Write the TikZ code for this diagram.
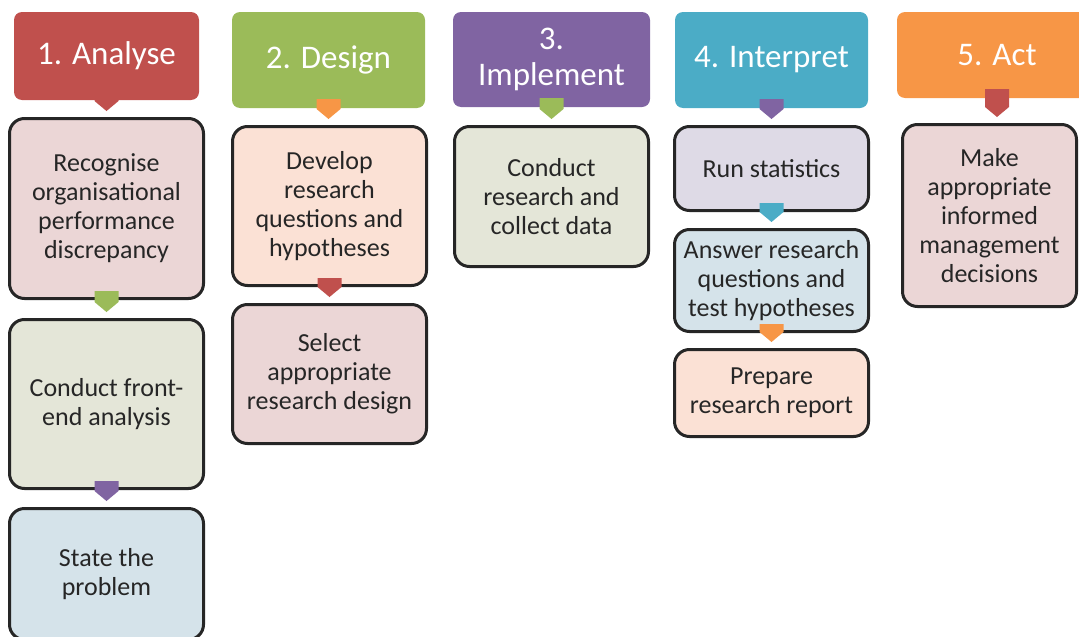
\documentclass[tikz,border=0pt]{standalone}
\usepackage{fontspec}
\setmainfont{Carlito}
\usetikzlibrary{calc}

\definecolor{ared}{HTML}{C0504D}
\definecolor{agreen}{HTML}{9BBB59}
\definecolor{apurple}{HTML}{8064A2}
\definecolor{ateal}{HTML}{4BACC6}
\definecolor{aorange}{HTML}{F79646}
\definecolor{tpink}{HTML}{EBD6D6}
\definecolor{tolive}{HTML}{E4E6D8}
\definecolor{tblue}{HTML}{D5E3EA}
\definecolor{tpeach}{HTML}{FBE1D5}
\definecolor{tlilac}{HTML}{DEDAE6}

\begin{document}
\begin{tikzpicture}[x=1pt,y=-1pt,
  phase/.style={rounded corners=8pt,inner sep=0pt,align=center,text=white,
    font=\fontsize{33}{36}\selectfont},
  task/.style={draw=black!85,line width=3pt,rounded corners=15pt,inner sep=0pt,
    align=center,text=black!85,font=\fontsize{26}{29}\selectfont,minimum width=194pt},
  every node/.style={anchor=center}]

\useasboundingbox (0,0) rectangle (1079,637);

%draw phases
  \node[phase,fill=ared,minimum width=185pt,minimum height=88pt] (analyse) at (106.5,56) {1. Analyse};
  \node[phase,fill=agreen,minimum width=193pt,minimum height=96pt] (design) at (328.5,60) {2. Design};
  \node[phase,fill=apurple,minimum width=197pt,minimum height=95pt] (implement) at (551.5,59.5) {3.\\Implement};
  \node[phase,fill=ateal,minimum width=193pt,minimum height=96pt] (interpret) at (771.5,60) {4. Interpret};
  \node[phase,fill=aorange,minimum width=200pt,minimum height=86pt] (act) at (997,55) {5. Act};

%draw tasks
  \node[task,fill=tpink,minimum height=180pt] (recognise) at (106.5,208.5) {Recognise\\organisational\\performance\\discrepancy};
  \node[task,fill=tolive,minimum height=169pt] (frontend) at (106.5,404) {Conduct front-\\end analysis};
  \node[task,fill=tblue,minimum height=131pt] (problem) at (106.5,574) {State the\\problem};

  \node[task,fill=tpeach,minimum height=159pt] (questions) at (329.5,206) {Develop\\research\\questions and\\hypotheses};
  \node[task,fill=tpink,minimum height=139pt] (rdesign) at (329.5,374) {Select\\appropriate\\research design};

  \node[task,fill=tolive,minimum height=140pt] (collect) at (551.5,196.5) {Conduct\\research and\\collect data};

  \node[task,fill=tlilac,minimum height=84pt] (stats) at (771.5,168.5) {Run statistics};
  \node[task,fill=tblue,minimum height=102pt] (answer) at (771.5,280.5) {Answer research\\questions and\\test hypotheses};
  \node[task,fill=tpeach,minimum height=87pt] (report) at (771.5,393) {Prepare\\research report};

  \node[task,fill=tpink,minimum width=174pt,minimum height=182pt] (decide) at (989.5,215.5) {Make\\appropriate\\informed\\management\\decisions};

%draw pointers
  \foreach \a/\b/\c in {analyse/recognise/ared, recognise/frontend/agreen, frontend/problem/apurple,
      design/questions/aorange, questions/rdesign/ared, implement/collect/agreen,
      interpret/stats/apurple, stats/answer/ateal, answer/report/aorange, act/decide/ared}
    \fill[\c] ($(\a.south)+(-12,-9)$) -- ($(\a.south)+(12,-9)$)
      -- ($(\a.south |- \b.north)+(12,-16)$) -- ($(\a.south |- \b.north)+(0,-6)$)
      -- ($(\a.south |- \b.north)+(-12,-16)$) -- cycle;

\end{tikzpicture}
\end{document}
